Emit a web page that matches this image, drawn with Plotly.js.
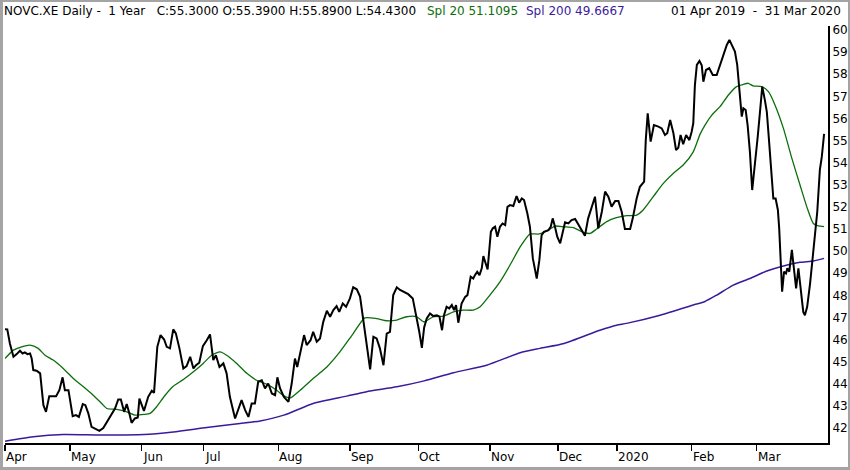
<!DOCTYPE html>
<html>
<head>
<meta charset="utf-8">
<script src="https://cdn.plot.ly/plotly-3.0.1.min.js"></script>
<style>
html,body{margin:0;padding:0;background:#fff;}
#wrap{position:relative;width:850px;height:470px;}
#chart{position:absolute;left:0;top:0;width:850px;height:470px;}
#frame{position:absolute;left:0;top:0;width:850px;height:470px;box-sizing:border-box;border:3px solid #a4a4a4;border-top-width:2px;border-right-width:2px;pointer-events:none;}
</style>
</head>
<body>
<div id="wrap"><div id="chart"></div><div id="frame"></div></div>
<script>
// Trading-day index (0 = 01 Apr 2019) and daily close
const closeDay = [
0,0.7,1.5,2.6,3.6,4.6,5.4,6.1,6.9,7.7,
8.2,8.7,9.7,10.8,11.8,12.6,13.6,14.7,15.7,16.7,
17.7,18.4,19.5,20.8,21.8,22.7,23.9,24.7,25.6,26.6,
27.7,29.0,30.2,31.4,32.8,33.8,34.8,35.6,36.6,37.4,
38.2,38.9,39.9,40.8,41.3,42.7,44.0,45.1,45.8,46.8,
47.8,48.9,49.7,50.7,51.7,52.5,53.6,54.8,55.8,56.9,
57.9,58.7,59.7,60.8,62.0,63.0,64.0,64.8,65.9,67.1,
68.1,69.1,70.7,71.7,72.7,73.8,74.8,75.8,76.8,77.8,
78.9,79.9,80.9,82.0,83.0,83.7,84.5,85.7,87.1,88.1,
89.1,89.8,90.9,91.9,92.7,93.9,94.7,95.8,96.8,97.8,
98.9,99.9,100.9,101.9,102.7,103.8,104.8,106.0,107.0,108.1,
109.1,110.1,111.3,112.2,113.2,114.2,115.2,116.3,117.3,118.3,
119.3,120.4,121.4,122.6,123.9,125.3,126.3,127.3,128.1,128.8,
129.6,130.6,131.6,132.7,133.5,134.3,134.9,135.7,136.5,137.3,
138.0,138.6,139.3,140.3,141.4,142.1,143.1,143.9,144.4,145.1,
145.8,146.5,147.0,147.6,148.3,149.3,149.9,150.6,151.3,152.1,
152.9,153.7,154.4,155.2,156.2,157.2,158.0,158.8,159.5,160.5,
161.3,162.2,163.4,164.2,164.9,165.6,167.0,167.7,168.3,169.0,
169.7,170.6,171.4,172.1,173.1,174.1,175.2,176.2,177.2,178.2,
179.2,180.3,181.3,182.3,183.4,184.4,185.4,186.4,187.5,188.5,
189.5,190.5,192.1,192.9,194.1,195.1,196.4,196.9,197.5,198.4,
199.4,200.8,201.8,202.8,203.5,204.4,205.4,206.2,206.9,207.6,
208.4,209.3,210.3,211.0,211.5,212.0,212.6,213.4,214.1,214.6,
215.4,216.4,217.5,218.7,219.7,220.7,221.8,222.6,223.4,224.3,
225.0,225.7,226.4,226.9,227.6,228.2,228.9,229.6,230.5,231.3,
232.0,232.7,233.5,234.1,234.8,235.6,236.1,236.8,237.5,237.9,
238.4,238.8,239.4,240.0,240.4,241.0,241.8,242.6,243.1,243.8,
244.5,245.3,245.8,246.5,247.4,248.2,248.9,249.6,250.4,251.0,
251.7
];
const closeVal = [
46.47,46.46,45.82,45.22,45.34,45.49,45.37,45.42,45.34,45.37,
45.14,44.62,44.59,44.47,43.03,42.73,43.44,43.44,43.44,43.71,
44.29,43.71,43.71,42.53,42.58,42.50,43.08,43.03,42.66,42.05,
41.98,41.87,42.00,42.28,42.66,42.88,43.29,43.29,42.73,43.08,
42.66,42.23,42.43,42.47,43.33,42.77,43.41,43.68,43.59,45.67,
46.20,46.00,45.67,45.60,46.46,46.28,45.60,44.69,44.80,45.22,
44.69,44.84,44.95,45.70,45.97,46.23,45.07,45.29,44.76,44.92,
44.47,43.41,42.43,42.81,43.26,42.81,42.50,43.11,43.11,44.09,
44.16,43.79,44.01,43.56,43.48,44.29,43.80,43.40,43.18,44.01,
45.14,44.76,45.44,46.20,45.75,45.97,46.35,45.90,46.05,46.80,
47.30,47.03,47.33,47.51,47.25,47.63,47.48,47.86,48.36,48.27,
47.94,46.88,45.75,44.65,46.12,46.05,45.60,44.84,46.27,46.35,
48.01,48.36,48.24,48.16,48.05,47.86,47.18,46.35,45.62,46.55,
46.95,47.18,47.06,47.10,47.03,46.42,47.10,47.48,47.41,47.56,
47.33,47.56,46.76,47.63,47.93,48.01,48.84,48.76,48.91,49.06,
48.91,49.22,49.77,49.52,49.17,50.87,51.03,51.10,50.65,51.10,
51.25,51.18,52.00,52.08,52.04,52.49,52.19,52.38,52.31,51.71,
51.10,49.67,48.76,49.59,50.72,50.87,50.95,51.10,51.48,51.10,
50.65,50.35,50.80,51.30,51.25,51.40,51.45,51.18,50.95,50.69,
51.48,51.96,52.46,51.03,51.78,52.69,52.46,52.01,52.26,52.26,
51.78,51.00,51.00,51.48,52.38,52.91,53.14,55.02,56.23,54.95,
55.70,55.63,55.55,55.25,55.33,55.93,55.33,54.57,54.67,55.25,
54.83,55.25,55.02,55.40,55.78,57.51,58.42,58.60,58.40,57.66,
58.19,58.27,57.96,57.96,58.42,58.79,59.32,59.55,59.32,59.02,
58.42,57.29,56.08,56.46,56.38,55.70,54.49,52.76,53.89,55.17,
56.30,57.44,56.83,56.30,54.95,53.59,52.38,52.38,51.86,51.03,
49.52,48.16,49.07,48.99,49.22,49.07,50.05,48.99,48.31,49.22,
48.16,47.25,47.10,47.48,48.54,49.67,50.95,51.78,53.67,54.27,
55.30
];
// Simple moving average 20 (green)
const sma20Day = [
0,2.6,5.1,7.7,10.2,12.3,14.8,17.9,21.0,24.1,
27.1,29.7,31.3,34.3,37.4,39.9,42.7,44.6,46.6,49.2,
51.7,54.8,57.9,60.9,63.5,66.1,68.1,71.2,74.3,77.3,
80.4,83.5,85.7,87.6,90.7,94.7,98.9,102.9,107.0,110.6,
114.2,117.3,120.4,123.4,126.5,128.8,131.6,134.7,137.8,140.8,
143.9,146.0,149.0,152.1,155.2,158.3,161.3,163.9,167.0,169.0,
171.8,174.6,177.7,179.8,181.8,184.9,187.9,191.0,194.1,196.1,
199.2,202.3,205.4,208.4,211.5,213.6,215.1,217.2,219.7,222.3,
224.8,226.9,228.4,229.9,232.5,234.6,236.6,239.2,241.8,244.3,
246.4,248.4,249.9,251.7
];
const sma20Val = [
45.14,45.52,45.67,45.75,45.60,45.29,45.07,44.69,44.24,43.86,
43.48,43.11,42.88,42.84,42.73,42.58,42.61,42.66,42.96,43.48,
43.89,44.19,44.54,44.92,45.29,45.44,45.29,44.92,44.47,44.16,
43.98,43.71,43.45,43.36,43.71,44.24,44.76,45.44,46.27,46.98,
46.95,46.85,46.88,47.03,47.03,46.80,47.03,47.06,47.25,47.33,
47.33,47.48,48.01,48.61,49.37,50.19,50.77,50.77,50.95,51.13,
51.10,51.06,50.85,50.80,51.00,51.33,51.51,51.60,51.63,51.86,
52.46,53.06,53.52,53.89,54.49,55.29,55.70,56.15,56.53,57.06,
57.44,57.54,57.59,57.47,57.44,57.21,56.61,55.55,54.19,52.99,
52.00,51.25,51.14,51.11
];
// Simple moving average 200 (purple)
const sma200Day = [
0,8.7,17.9,29.2,42.7,51.7,62.0,72.2,78.4,85.7,
94.7,105.0,111.1,120.4,128.8,137.8,148.0,158.3,164.4,171.8,
182.8,187.9,191.0,201.3,211.5,215.1,218.7,223.8,228.9,234.1,
239.2,244.3,248.4,251.7
];
const sma200Val = [
41.40,41.60,41.70,41.68,41.70,41.82,42.02,42.20,42.32,42.58,
43.11,43.44,43.64,43.86,44.13,44.50,44.84,45.40,45.60,45.82,
46.42,46.65,46.73,47.10,47.56,47.72,48.01,48.46,48.76,49.10,
49.33,49.49,49.55,49.67
];
// Month tick positions (trading-day index) and labels
const monthTickDay = [0,20,42,61,84,106,127,149,170,188,211,231];
const monthTickLabel = ['Apr','May','Jun','Jul','Aug','Sep','Oct','Nov','Dec','2020','Feb','Mar'];

const headerMain = 'NOVC.XE Daily -\u00a0\u00a01 Year\u00a0\u00a0\u00a0C:55.3000 O:55.3900 H:55.8900 L:54.4300';
const headerSpl20 = 'Spl 20 51.1095';
const headerSpl200 = 'Spl 200 49.6667';
const headerRange = '01 Apr 2019\u00a0\u00a0-\u00a0\u00a031 Mar 2020';

const FONT = 'DejaVu Sans';
const GREEN = '#0b6e0b';
const PURPLE = '#3a1a9c';

const traces = [
  {x: sma200Day, y: sma200Val, type: 'scatter', mode: 'lines',
   line: {color: PURPLE, width: 1.5, shape: 'spline', smoothing: 0.6}, hoverinfo: 'skip'},
  {x: sma20Day, y: sma20Val, type: 'scatter', mode: 'lines',
   line: {color: GREEN, width: 1.3, shape: 'spline', smoothing: 0.6}, hoverinfo: 'skip'},
  {x: closeDay, y: closeVal, type: 'scatter', mode: 'lines',
   line: {color: '#000000', width: 2}, hoverinfo: 'skip'}
];

const annotations = monthTickDay.map((d, i) => ({
  x: d, y: -0.034, xref: 'x', yref: 'paper', text: monthTickLabel[i],
  showarrow: false, xanchor: 'left', yanchor: 'middle', xshift: -1,
  font: {family: FONT, size: 12, color: '#000'}
}));
annotations.push(
  {x: 0, y: 1.036, xref: 'paper', yref: 'paper', text: headerMain, showarrow: false,
   xanchor: 'left', yanchor: 'middle', xshift: -3, font: {family: FONT, size: 12, color: '#000'}},
  {x: 0.5103, y: 1.036, xref: 'paper', yref: 'paper', text: headerSpl20, showarrow: false,
   xanchor: 'left', yanchor: 'middle', font: {family: FONT, size: 12, color: GREEN}},
  {x: 0.6306, y: 1.036, xref: 'paper', yref: 'paper', text: headerSpl200, showarrow: false,
   xanchor: 'left', yanchor: 'middle', font: {family: FONT, size: 12, color: PURPLE}},
  {x: 1.018, y: 1.036, xref: 'paper', yref: 'paper', text: headerRange, showarrow: false,
   xanchor: 'right', yanchor: 'middle', font: {family: FONT, size: 12, color: '#000'}}
);

const layout = {
  width: 850, height: 470,
  margin: {l: 5, r: 22, t: 26, b: 27, pad: 0},
  paper_bgcolor: '#ffffff', plot_bgcolor: '#ffffff',
  showlegend: false,
  xaxis: {
    range: [0, 252.9], showgrid: false, zeroline: false,
    showline: true, linecolor: '#000', linewidth: 2,
    tickmode: 'array', tickvals: monthTickDay, ticktext: monthTickLabel,
    showticklabels: false, ticks: 'outside', ticklen: 6, tickwidth: 1.5, tickcolor: '#000'
  },
  yaxis: {
    range: [41.32, 60.18], side: 'right', showgrid: false, zeroline: false,
    showline: true, linecolor: '#000', linewidth: 2,
    dtick: 1, tick0: 42, ticks: '', ticklabelstandoff: 0,
    tickfont: {family: FONT, size: 12, color: '#000'}
  },
  annotations: annotations
};

Plotly.newPlot('chart', traces, layout, {displayModeBar: false, staticPlot: true});
</script>
</body>
</html>
